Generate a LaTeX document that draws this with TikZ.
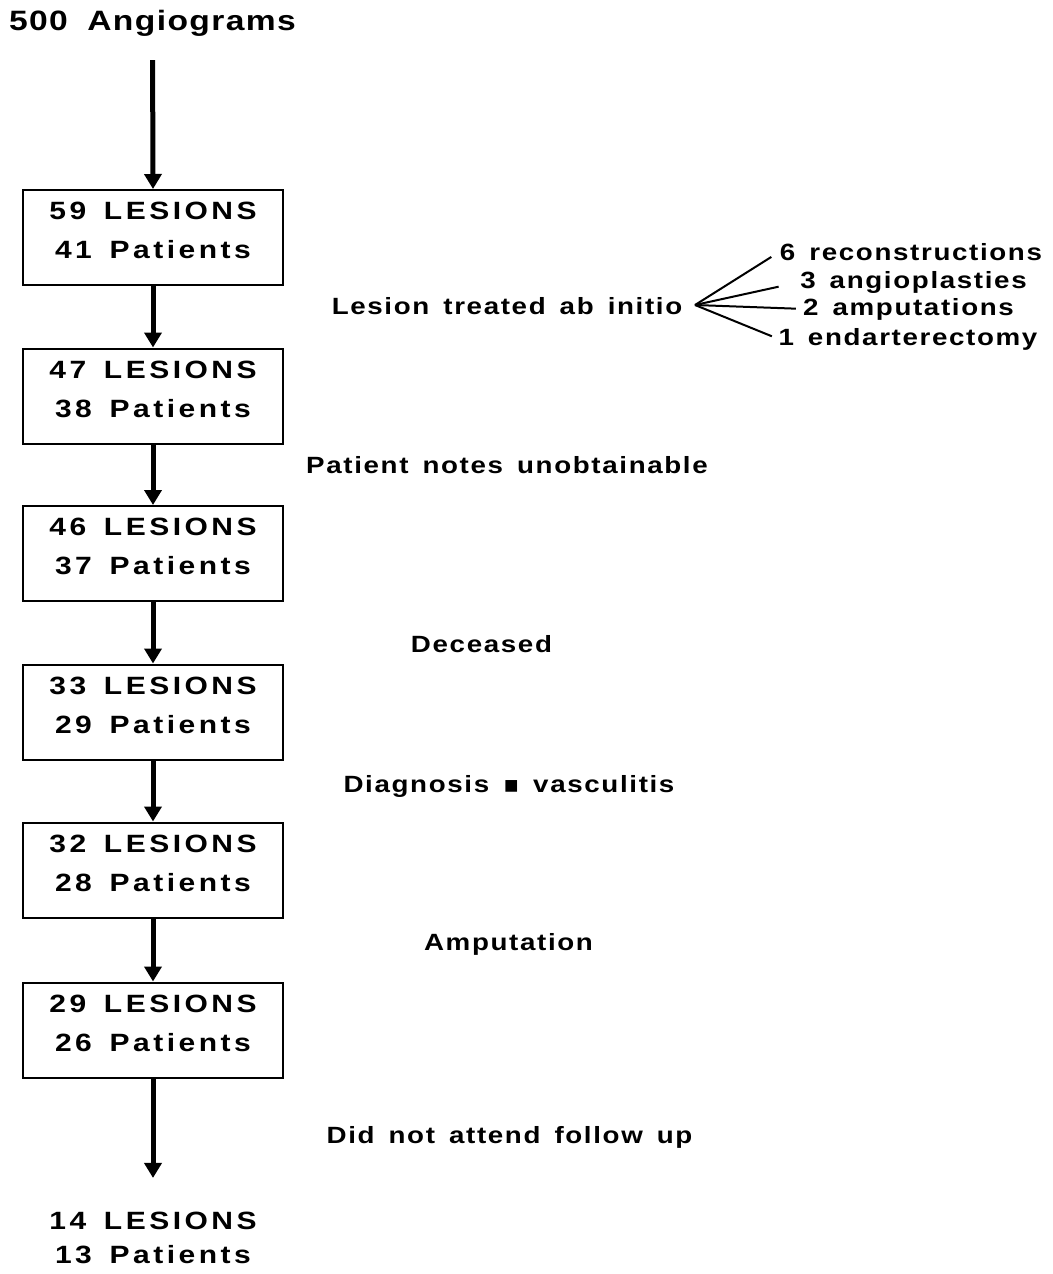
\documentclass[tikz,border=0pt]{standalone}
\usepackage{fontspec}
\setmainfont{Liberation Sans}
\newfontfamily\boxfnt{Liberation Sans}[FakeStretch=1.2,LetterSpace=14,WordSpace=1.5]
\newfontfamily\ttlfnt{Liberation Sans}[FakeStretch=1.2,LetterSpace=5,WordSpace=1.8]
\newfontfamily\lblfnt{Liberation Sans}[FakeStretch=1.18,LetterSpace=7,WordSpace=1.5]
\newfontfamily\dejavu{DejaVu Sans}
\usetikzlibrary{arrows.meta}
\begin{document}
\begin{tikzpicture}[x=1pt,y=-1pt,
  box/.style={draw, line width=2pt, minimum width=260pt, minimum height=95pt,
    inner sep=0pt, align=center, font=\boxfnt\bfseries\fontsize{25}{39}\selectfont},
  endtxt/.style={inner sep=0pt, align=center, font=\boxfnt\bfseries\fontsize{25}{34}\selectfont},
  ttl/.style={inner sep=0pt, anchor=base, font=\ttlfnt\bfseries\fontsize{28}{32}\selectfont},
  lbl/.style={inner sep=0pt, anchor=base, font=\lblfnt\bfseries\fontsize{23.5}{28}\selectfont},
  arr/.style={line width=5pt, -{Triangle[length=15pt,width=17pt]}},
  branch/.style={line width=2pt}]
\useasboundingbox (0,0) rectangle (1052,1274);

\node[ttl] (top) at (152.5,30) {500 Angiograms};
\node[box] (b1) at (153,237.5) {59 LESIONS\\41 Patients\rule[-14pt]{0pt}{14pt}};
\node[box] (b2) at (153,396)   {47 LESIONS\\38 Patients\rule[-14pt]{0pt}{14pt}};
\node[box] (b3) at (153,553.5) {46 LESIONS\\37 Patients\rule[-14pt]{0pt}{14pt}};
\node[box] (b4) at (153,712)   {33 LESIONS\\29 Patients\rule[-14pt]{0pt}{14pt}};
\node[box] (b5) at (153,870)   {32 LESIONS\\28 Patients\rule[-14pt]{0pt}{14pt}};
\node[box] (b6) at (153,1030)  {29 LESIONS\\26 Patients\rule[-14pt]{0pt}{14pt}};
\node[endtxt] (fin) at (153,1238) {14 LESIONS\\13 Patients};

\draw[arr, shorten <=24pt] (top.south) -- (b1.north);
\draw[arr] (b1.south) -- (b2.north);
\draw[arr] (b2.south) -- (b3.north);
\draw[arr] (b3.south) -- (b4.north);
\draw[arr] (b4.south) -- (b5.north);
\draw[arr] (b5.south) -- (b6.north);
\draw[arr, shorten >=34pt] (b6.south) -- (fin.north);

\node[lbl] (l1) at (507,314) {Lesion treated ab initio};
\node[lbl] (l2) at (507,473) {Patient notes unobtainable};
\node[lbl] (l3) at (481.5,652) {Deceased};
\node[lbl] (l4) at (509,792) {Diagnosis {\dejavu ▪} vasculitis};
\node[lbl] (l5) at (508.5,950) {Amputation};
\node[lbl] (l6) at (509.5,1143) {Did not attend follow up};

\node[lbl] (r1) at (911,260) {6 reconstructions};
\node[lbl] (r2) at (913.5,288) {3 angioplasties};
\node[lbl] (r3) at (908.5,315) {2 amputations};
\node[lbl] (r4) at (908,345) {1 endarterectomy};

\coordinate (fork) at (695,305);
\draw[branch, shorten >=10pt] (fork) -- (r1.west);
\draw[branch, shorten >=22pt] (fork) -- (r2.west);
\draw[branch, shorten >=7pt] (fork) -- (r3.west);
\draw[branch, shorten >=7pt] (fork) -- (r4.west);
\end{tikzpicture}
\end{document}
